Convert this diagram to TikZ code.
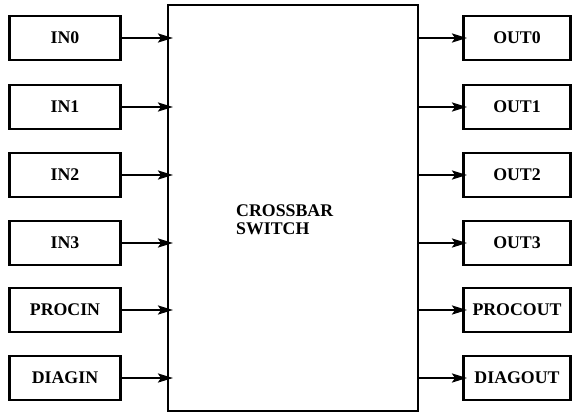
\documentclass[tikz,border=0pt]{standalone}
\usepackage{fontspec}
\setmainfont{Liberation Serif}
\usetikzlibrary{arrows.meta}
\begin{document}
\begin{tikzpicture}[x=1pt,y=-1pt,
  iobox/.style={draw,line width=2.4pt,minimum width=111pt,minimum height=44pt,inner sep=0pt,
    font=\fontsize{17.8}{18}\selectfont\bfseries},
  conn/.style={line width=2.2pt,-{Stealth[length=15pt,width=9pt,inset=3pt]}}]
\useasboundingbox (0,0) rectangle (573,413);
\draw[line width=2.4pt] (168,5) rectangle (418,411);
\node[font=\fontsize{17.8}{18}\selectfont\bfseries,align=left,anchor=west,inner sep=0pt] (sw) at (236,220) {CROSSBAR\\SWITCH};
\foreach \n/\lab/\y in {0/IN0/38,1/IN1/107,2/IN2/175,3/IN3/243,4/PROCIN/310,5/DIAGIN/378}{
  \node[iobox] (in\n) at (65,\y) {\lab};
  \coordinate (ti\n) at (173,\y);
  \draw[conn] (in\n.east) -- (ti\n);
}
\foreach \n/\lab/\y in {0/OUT0/38,1/OUT1/107,2/OUT2/175,3/OUT3/243,4/PROCOUT/310,5/DIAGOUT/378}{
  \node[iobox,minimum width=107pt] (out\n) at (517,\y) {\lab};
  \coordinate (so\n) at (418,\y);
  \coordinate (to\n) at (467,\y);
  \draw[conn] (so\n) -- (to\n);
}
\end{tikzpicture}
\end{document}
